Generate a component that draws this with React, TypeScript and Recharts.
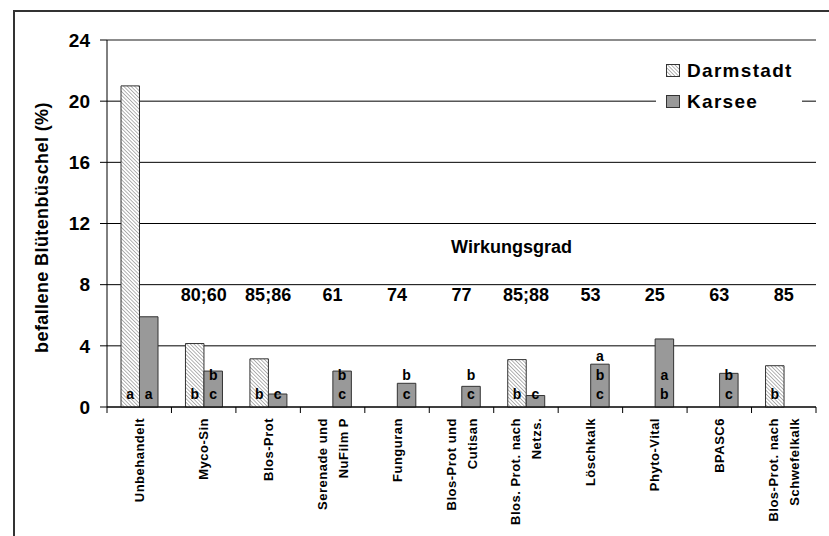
import React from 'react';
import {
  BarChart,
  Bar,
  XAxis,
  YAxis,
  CartesianGrid,
  Legend,
  LabelList,
  ReferenceLine
} from 'recharts';

// treatments (line breaks as in the original axis labels)
const categories = [
  'Unbehandelt',
  'Myco-Sin',
  'Blos-Prot',
  'Serenade und\nNuFilm P',
  'Funguran',
  'Blos-Prot und\nCutisan',
  'Blos. Prot. nach\nNetzs.',
  'Löschkalk',
  'Phyto-Vital',
  'BPASC6',
  'Blos-Prot. nach\nSchwefelkalk'
];

// befallene Blütenbüschel in %
const darmstadt = [21, 4.15, 3.15, null, null, null, 3.1, null, null, null, 2.7];
const karsee = [5.9, 2.35, 0.85, 2.35, 1.55, 1.35, 0.75, 2.8, 4.45, 2.2, null];

// significance letters, top to bottom
const lettersDarmstadt = [['a'], ['b'], ['b'], [], [], [], ['b'], [], [], [], ['b']];
const lettersKarsee = [['a'], ['b', 'c'], ['c'], ['b', 'c'], ['b', 'c'], ['b', 'c'], ['c'], ['a', 'b', 'c'], ['a', 'b'], ['b', 'c'], []];

const wirkungsgrad = ['', '80;60', '85;86', '61', '74', '77', '85;88', '53', '25', '63', '85'];

const yTicks = [0, 4, 8, 12, 16, 20, 24];

const data = categories.map((name, i) => ({
  name,
  darmstadt: darmstadt[i],
  karsee: karsee[i],
  lettersD: lettersDarmstadt[i].join(' '),
  lettersK: lettersKarsee[i].join(' ')
}));

const W = 829;
const H = 536;
const MARGIN = { top: 40, right: 13, bottom: 0, left: 13 };
const Y_AXIS_W = 94;
const X_AXIS_H = 129;
const PLOT_W = W - MARGIN.left - MARGIN.right - Y_AXIS_W;
const BAND = PLOT_W / categories.length;

const FONT = '"Liberation Sans", Arial, sans-serif';

const CategoryTick = (props: any) => {
  const { x, y, payload, index } = props;
  const lines = String(payload.value).split('\n');
  const top = y + 11;
  return (
    <g>
      <line x1={x - BAND / 2} y1={y} x2={x - BAND / 2} y2={y + 6} stroke="#000" />
      {index === categories.length - 1 && (
        <line x1={x + BAND / 2} y1={y} x2={x + BAND / 2} y2={y + 6} stroke="#000" />
      )}
      {lines.map((l, i) => {
        const lx = x + (i - (lines.length - 1) / 2) * 21;
        return (
          <text
            key={i}
            x={lx}
            y={top}
            transform={`rotate(-90 ${lx} ${top})`}
            textAnchor="end"
            dominantBaseline="central"
            fontSize={13}
            fontWeight="bold"
            fontFamily={FONT}
            letterSpacing={0.5}
            fill="#000"
          >
            {l}
          </text>
        );
      })}
      <text
        x={x}
        y={y - 106}
        textAnchor="middle"
        fontSize={18}
        fontWeight="bold"
        fontFamily={FONT}
        fill="#000"
      >
        {wirkungsgrad[index]}
      </text>
    </g>
  );
};

const Letters = (props: any) => {
  const { x, y, width, height, value } = props;
  if (!value) return null;
  const list = String(value).split(' ');
  const bottom = y + height;
  return (
    <g>
      {list.map((l, i) => (
        <text
          key={i}
          x={x + width / 2}
          y={bottom - 13 - (list.length - 1 - i) * 19}
          textAnchor="middle"
          dominantBaseline="central"
          fontSize={14}
          fontWeight="bold"
          fontFamily={FONT}
          fill="#000"
        >
          {l}
        </text>
      ))}
    </g>
  );
};

const hatch = (id: string) => (
  <pattern id={id} patternUnits="userSpaceOnUse" width="2.6" height="2.6" patternTransform="rotate(-45)">
    <rect width="2.6" height="2.6" fill="#fff" />
    <line x1="0" y1="0" x2="0" y2="2.6" stroke="#8a8a8a" strokeWidth="1.3" />
  </pattern>
);

const LegendBox = () => (
  <div style={{ fontFamily: FONT, fontWeight: 'bold', fontSize: 19, letterSpacing: 1.3, color: '#000' }}>
    {[
      { label: 'Darmstadt', fill: 'url(#hatchLegend)' },
      { label: 'Karsee', fill: '#999' }
    ].map((item) => (
      <div key={item.label} style={{ height: 31, display: 'flex', alignItems: 'center' }}>
        <svg width={14} height={13} style={{ marginLeft: 10, marginRight: 7 }}>
          <defs>{hatch('hatchLegend')}</defs>
          <rect x={0.5} y={0.5} width={13} height={12} fill={item.fill} stroke="#333" />
        </svg>
        <span>{item.label}</span>
      </div>
    ))}
  </div>
);

export default function App() {
  return (
    <div style={{ position: 'absolute', left: 0, top: 0, width: W, height: H, overflow: 'hidden', background: '#fff' }}>
      <div
        style={{
          position: 'absolute',
          left: 13,
          top: 10,
          width: W - 13,
          height: H - 10,
          borderTop: '2px solid #333',
          borderLeft: '2px solid #333',
          boxSizing: 'border-box'
        }}
      />
      <div style={{ position: 'absolute', left: 0, top: 0 }}>
        <BarChart width={W} height={H} data={data} margin={MARGIN} barGap={0} barSize={18.5}>
          <defs>{hatch('hatch')}</defs>
          <CartesianGrid vertical={false} stroke="#000" strokeWidth={1} />
          <XAxis
            dataKey="name"
            height={X_AXIS_H}
            interval={0}
            tickLine={false}
            tickSize={0}
            tickMargin={0}
            axisLine={{ stroke: '#000' }}
            tick={<CategoryTick />}
          />
          <YAxis
            width={Y_AXIS_W}
            domain={[0, 24]}
            ticks={yTicks}
            interval={0}
            tickSize={7}
            tickMargin={10}
            axisLine={{ stroke: '#000' }}
            tickLine={{ stroke: '#000' }}
            tick={{ fontSize: 19, fontWeight: 'bold', fill: '#000', fontFamily: FONT }}
            label={{
              content: (p: any) => {
                const vb = p.viewBox || { x: 13, y: 40, width: Y_AXIS_W, height: 367 };
                const lx = vb.x + 29;
                const ly = vb.y + vb.height / 2 + 4;
                return (
                  <text
                    x={lx}
                    y={ly}
                    transform={`rotate(-90 ${lx} ${ly})`}
                    textAnchor="middle"
                    dominantBaseline="central"
                    fontSize={18}
                    fontWeight="bold"
                    fontFamily={FONT}
                    letterSpacing={0.4}
                    fill="#000"
                  >
                    befallene Blütenbüschel (%)
                  </text>
                );
              }
            }}
          />
          <YAxis
            yAxisId="right"
            orientation="right"
            width={0}
            domain={[0, 24]}
            tick={false}
            tickLine={false}
            axisLine={{ stroke: '#999' }}
          />
          <ReferenceLine y={24} stroke="#999" />
          <ReferenceLine
            y={10.5}
            stroke="none"
            label={{
              value: 'Wirkungsgrad',
              position: 'center',
              dx: 50,
              fontSize: 18,
              fontWeight: 'bold',
              fill: '#000',
              fontFamily: FONT
            }}
          />
          <Legend
            layout="horizontal"
            verticalAlign="middle"
            align="center"
            wrapperStyle={{ position: 'absolute', left: 656, top: 55, width: 146, height: 62, background: '#fff' }}
            content={() => <LegendBox />}
          />
          <Bar dataKey="darmstadt" name="Darmstadt" fill="url(#hatch)" stroke="#333" strokeWidth={1} isAnimationActive={false}>
            <LabelList dataKey="lettersD" content={<Letters />} />
          </Bar>
          <Bar dataKey="karsee" name="Karsee" fill="#999" stroke="#333" strokeWidth={1} isAnimationActive={false}>
            <LabelList dataKey="lettersK" content={<Letters />} />
          </Bar>
        </BarChart>
      </div>
    </div>
  );
}
